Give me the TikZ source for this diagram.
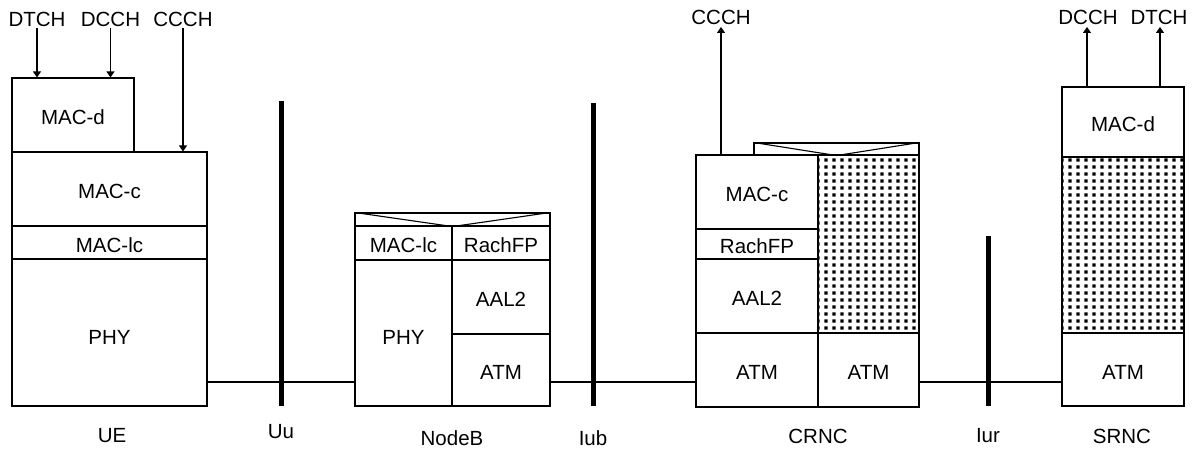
\documentclass[tikz,border=0pt]{standalone}
\usepackage{fontspec}
\setmainfont{Liberation Sans}
\usetikzlibrary{arrows.meta,patterns}
\pgfdeclarepatternformonly{mydots}{\pgfpointorigin}{\pgfqpoint{8.4pt}{7pt}}{\pgfqpoint{8.4pt}{7pt}}{%
  \pgfpathrectangle{\pgfqpoint{2.4pt}{1.7pt}}{\pgfqpoint{3.6pt}{3.6pt}}\pgfusepath{fill}}
\tikzset{
  cell/.style={draw=black, line width=1.1pt, inner sep=0pt, font=\fontsize{20.5}{24}\selectfont, fill=white, text height=19pt, text depth=0pt},
  lowcell/.style={cell, text height=23pt},
  emptycell/.style={cell, text height=0pt, text depth=0pt},
  lbl/.style={inner sep=2pt, font=\fontsize{20.5}{24}\selectfont},
  bar/.style={fill=black, inner sep=0pt, minimum width=5pt},
  link/.style={line width=1.1pt},
  chan/.style={line width=1.1pt, -{Triangle[length=6pt,width=8pt]}},
  dotted cell/.style={draw=black, line width=1.1pt, inner sep=0pt, pattern=mydots, pattern color=black},
}
\begin{document}
\begin{tikzpicture}[x=1pt,y=-1pt]
\useasboundingbox (0,0) rectangle (1194,450);
\coordinate (ly) at (0,382);
% ---------- UE ----------
\node[cell, minimum width=122, minimum height=74] (ued) at (73,115) {MAC-d};
\node[cell, minimum width=195, minimum height=74] (uec) at (109.5,189) {MAC-c};
\node[cell, minimum width=195, minimum height=33] (uelc) at (109.5,242.5) {MAC-lc};
\node[lowcell, minimum width=195, minimum height=147] (uephy) at (109.5,332.5) {PHY};
\node[lbl] (dtch1) at (37,19) {DTCH};
\node[lbl] (dcch1) at (110.5,19) {DCCH};
\node[lbl] (ccch1) at (183,19) {CCCH};
\draw[chan] (dtch1.south) -- (dtch1.south |- ued.north);
\draw[chan] (dcch1.south) -- (dcch1.south |- ued.north);
\draw[chan] (ccch1.south) -- (ccch1.south |- uec.north);
\node[lbl] (uelab) at (112,436) {UE};
% ---------- Uu ----------
\node[lbl] (uulab) at (281,432) {Uu};
% ---------- NodeB ----------
\node[emptycell, minimum width=195, minimum height=13] (nbtop) at (452.5,219.5) {};
\draw[link] (nbtop.north west) -- (nbtop.south) -- (nbtop.north east);
\node[cell, minimum width=97, minimum height=34] (nblc) at (403.5,243) {MAC-lc};
\node[cell, minimum width=98, minimum height=34] (nbrf) at (501,243) {RachFP};
\node[lowcell, minimum width=97, minimum height=146] (nbphy) at (403.5,333) {PHY};
\node[cell, minimum width=98, minimum height=74] (nbaal) at (501,297) {AAL2};
\node[cell, minimum width=98, minimum height=72] (nbatm) at (501,370) {ATM};
\node[lbl] (nblab) at (452,438) {NodeB};
% ---------- Iub ----------
\node[lbl] (iublab) at (593,438) {Iub};
% ---------- CRNC ----------
\node[emptycell, minimum width=165, minimum height=12] (crtop) at (836.5,149) {};
\draw[link] (crtop.north west) -- (crtop.south) -- (crtop.north east);
\node[cell, minimum width=122, minimum height=74] (crc) at (757,192) {MAC-c};
\node[cell, minimum width=122, minimum height=30] (crrf) at (757,244) {RachFP};
\node[cell, minimum width=122, minimum height=74] (craal) at (757,296) {AAL2};
\node[cell, minimum width=122, minimum height=74] (cratm) at (757,370) {ATM};
\node[dotted cell, minimum width=101, minimum height=178] (crdot) at (868.5,244) {};
\node[cell, minimum width=101, minimum height=74] (cratmb) at (868.5,370) {ATM};
\node[lbl] (ccch2) at (721,17.5) {CCCH};
\draw[chan] ([xshift=-36]crc.north) -- ([xshift=-36]crc.north |- ccch2.south);
\node[lbl] (crlab) at (818,436) {CRNC};
% ---------- Iur ----------
\node[lbl] (iurlab) at (988,436) {Iur};
% ---------- SRNC ----------
\node[cell, minimum width=122, minimum height=70] (srd) at (1123,122) {MAC-d};
\node[dotted cell, minimum width=122, minimum height=176] (srdot) at (1123,245) {};
\node[cell, minimum width=122, minimum height=73] (sratm) at (1123,369.5) {ATM};
\node[lbl] (dcch2) at (1088,17.5) {DCCH};
\node[lbl] (dtch2) at (1159,17.5) {DTCH};
\draw[chan] ([xshift=-36]srd.north) -- ([xshift=-36]srd.north |- dcch2.south);
\draw[chan] ([xshift=37]srd.north) -- ([xshift=37]srd.north |- dtch2.south);
\node[lbl] (srlab) at (1122,436) {SRNC};
% ---------- links ----------
\draw[link] (uephy.east |- ly) -- (nbphy.west |- ly);
\draw[link] (nbatm.east |- ly) -- (cratm.west |- ly);
\draw[link] (cratmb.east |- ly) -- (sratm.west |- ly);
% ---------- interface bars (over the links) ----------
\node[bar, minimum height=305] (uu) at (281,253.5) {};
\node[bar, minimum height=303] (iub) at (593,254.5) {};
\node[bar, minimum height=170] (iur) at (988,321) {};
\end{tikzpicture}
\end{document}
